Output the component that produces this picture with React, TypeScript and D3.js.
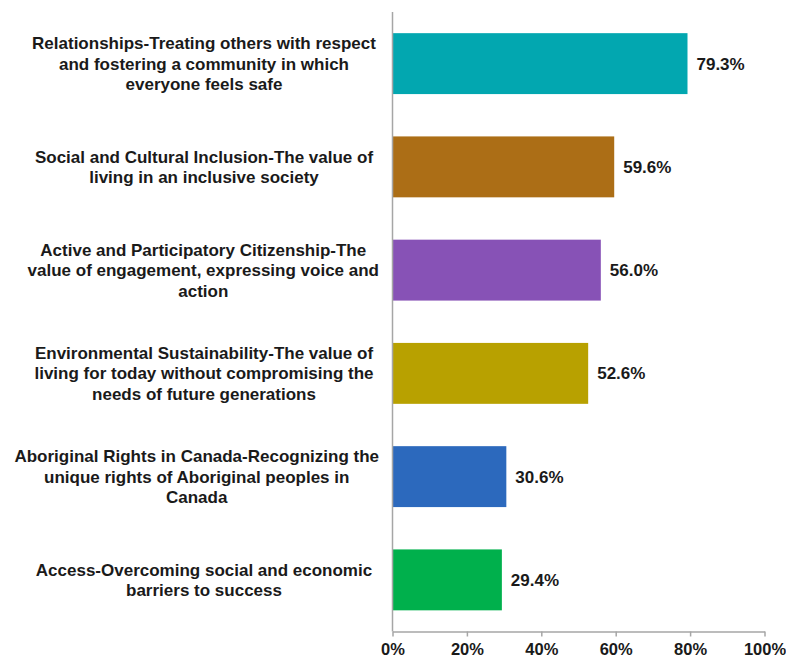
import React, { useEffect, useRef } from "react";
import * as d3 from "d3";

const categories = [
  "Relationships-Treating others with respect\nand fostering a community in which\neveryone feels safe",
  "Social and Cultural Inclusion-The value of\nliving in an inclusive society",
  "Active and Participatory Citizenship-The\nvalue of engagement, expressing voice and\naction",
  "Environmental Sustainability-The value of\nliving for today without compromising the\nneeds of future generations",
  "Aboriginal Rights in Canada-Recognizing the\nunique rights of Aboriginal peoples in\nCanada",
  "Access-Overcoming social and economic\nbarriers to success",
];
const values = [79.3, 59.6, 56.0, 52.6, 30.6, 29.4];
const colors = ["#02A7B0", "#AC6E16", "#8752B6", "#B8A100", "#2C69BD", "#00B04C"];
const tickValues = [0, 20, 40, 60, 80, 100];

const W = 786;
const H = 659;
const FONT = "'Liberation Sans', Arial, sans-serif";

export default function App() {
  const ref = useRef<SVGSVGElement | null>(null);

  useEffect(() => {
    const svg = d3.select(ref.current);
    svg.selectAll("*").remove();

    const x = d3.scaleLinear().domain([0, 100]).range([392.5, 764.5]);
    const y = d3
      .scaleBand<number>()
      .domain(d3.range(categories.length))
      .range([12, 631.5])
      .paddingInner(0.41)
      .paddingOuter(0.205);

    // bars
    svg
      .selectAll("rect.bar")
      .data(values)
      .join("rect")
      .attr("class", "bar")
      .attr("x", x(0))
      .attr("y", (_, i) => y(i)!)
      .attr("width", (d) => x(d) - x(0))
      .attr("height", y.bandwidth())
      .attr("fill", (_, i) => colors[i]);

    // value labels
    svg
      .selectAll("text.val")
      .data(values)
      .join("text")
      .attr("class", "val")
      .attr("x", (d) => x(d) + 9)
      .attr("y", (_, i) => y(i)! + y.bandwidth() / 2)
      .attr("dy", "0.36em")
      .attr("font-family", FONT)
      .attr("font-weight", "bold")
      .attr("font-size", 17)
      .attr("fill", "#1a1a1a")
      .text((d) => d.toFixed(1) + "%");

    // vertical axis line
    svg
      .append("line")
      .attr("x1", x(0))
      .attr("x2", x(0))
      .attr("y1", 12)
      .attr("y2", 631.5)
      .attr("stroke", "#a6a6a6")
      .attr("stroke-width", 1.5);

    // bottom axis
    const axisG = svg.append("g").attr("transform", "translate(0,631.5)");
    const axis = d3
      .axisBottom(x)
      .tickValues(tickValues)
      .tickSize(5)
      .tickSizeOuter(0)
      .tickFormat((d) => d + "%");
    axisG.call(axis as any);
    axisG.select(".domain").attr("stroke", "#a6a6a6").attr("stroke-width", 1.5);
    axisG.selectAll(".tick line").attr("stroke", "#a6a6a6").attr("stroke-width", 1.5);
    axisG
      .selectAll(".tick text")
      .attr("font-family", FONT)
      .attr("font-weight", "bold")
      .attr("font-size", 16.5)
      .attr("fill", "#1a1a1a")
      .attr("y", 0)
      .attr("dy", "23.5px");

    // category labels
    const lineH = 20.5;
    const centerX = 204;
    const rightLimit = 379;
    categories.forEach((c, i) => {
      const lines = c.split("\n");
      const cy = y(i)! + y.bandwidth() / 2;
      const t = svg
        .append("text")
        .attr("font-family", FONT)
        .attr("font-weight", "bold")
        .attr("font-size", 17)
        .attr("fill", "#1a1a1a")
        .attr("text-anchor", "middle");
      const spans = lines.map((ln, k) =>
        t
          .append("tspan")
          .attr("x", centerX)
          .attr("y", cy + (k - (lines.length - 1) / 2) * lineH)
          .attr("dy", "0.36em")
          .text(ln)
      );
      let maxW = 0;
      spans.forEach((s) => {
        const n = s.node() as SVGTSpanElement;
        maxW = Math.max(maxW, n.getComputedTextLength());
      });
      const cx = Math.min(centerX, rightLimit - maxW / 2);
      spans.forEach((s) => s.attr("x", cx));
    });
  }, []);

  return (
    <svg
      ref={ref}
      width={W}
      height={H}
      style={{ position: "absolute", left: 0, top: 0, background: "#fff" }}
    />
  );
}
